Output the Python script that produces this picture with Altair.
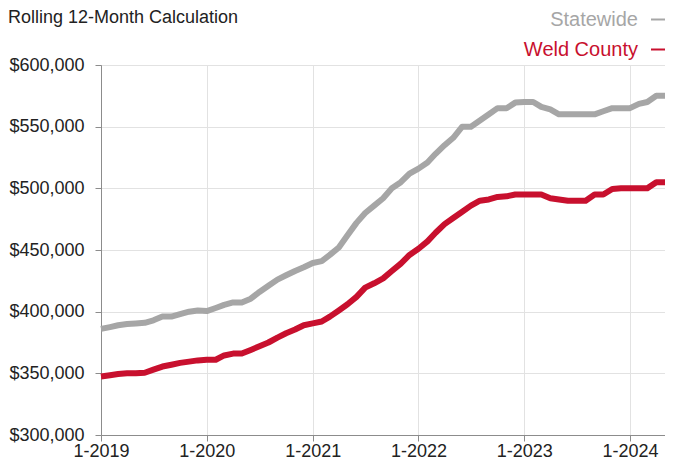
import altair as alt
import pandas as pd

# ---------------- data ----------------
title_text = "Rolling 12-Month Calculation"
series_names = ["Statewide", "Weld County"]
series_colors = ["#a6a6a6", "#c8102e"]

months = [d.strftime("%Y-%m-%d") for d in pd.date_range("2019-01-01", "2024-05-01", freq="MS")]

statewide = [
    386000, 387500, 389000, 390000, 390500, 391000, 393000, 396000, 396000, 398000, 400000, 401000,
    400500, 403000, 405500, 407500, 407500, 410500, 416000, 421000, 426000, 429500, 433000, 436000,
    439500, 441000, 446000, 452000, 462000, 472000, 480000, 486000, 492000, 500000, 505000, 512000,
    516000, 521000, 528000, 535000, 541000, 550000, 550000, 555000, 560000, 565000, 565000, 569500,
    570000, 570000, 566000, 564000, 560000, 560000, 560000, 560000, 560000, 562500, 565000, 565000,
    565000, 568500, 570000, 575000, 575000,
]

weld = [
    347500, 348500, 349500, 350000, 350000, 350500, 353000, 355500, 357000, 358500, 359500, 360500,
    361000, 361000, 364500, 366000, 366000, 369000, 372000, 375000, 379000, 382500, 385500, 389000,
    390500, 392000, 396000, 401000, 406000, 412000, 419500, 423000, 427000, 433000, 439000, 446000,
    451000, 457000, 464000, 471000, 476000, 481000, 486000, 490000, 491000, 493000, 493500, 495000,
    495000, 495000, 495000, 492000, 491000, 490000, 490000, 490000, 495000, 495000, 499500, 500000,
    500000, 500000, 500000, 505000, 505000,
]

y_ticks = [300000, 350000, 400000, 450000, 500000, 550000, 600000]
x_tick_years = [2019, 2020, 2021, 2022, 2023, 2024]

# ---------------- table ----------------
df = pd.DataFrame({"month": months, series_names[0]: statewide, series_names[1]: weld})
df = df.melt(id_vars="month", var_name="series", value_name="value")

FONT = "Liberation Sans"

PAD_L, PAD_T, PAD_B = 93, 57, 24
W, H = 564, 370

x_enc = alt.X(
    "month:T",
    scale=alt.Scale(
        type="utc",
        domain=[alt.DateTime(year=2019, month=1, date=1, utc=True),
                alt.DateTime(year=2024, month=5, date=1, utc=True)],
    ),
    axis=alt.Axis(
        values=[alt.DateTime(year=y, month=1, date=1, utc=True) for y in x_tick_years],
        labelExpr="(utcmonth(datum.value) + 1) + '-' + utcyear(datum.value)",
        title=None,
        labelPadding=1,
        labelFlush=False,
        labelOverlap=False,
    ),
)

y_enc = alt.Y(
    "value:Q",
    scale=alt.Scale(domain=[300000, 600000], nice=False, zero=False),
    axis=alt.Axis(values=y_ticks, format="$,.0f", title=None, labelPadding=11),
)

lines = alt.Chart(df).mark_line(strokeWidth=6, strokeJoin="round", strokeCap="butt").encode(
    x=x_enc,
    y=y_enc,
    color=alt.Color(
        "series:N",
        scale=alt.Scale(domain=series_names, range=series_colors),
        legend=None,
    ),
    detail="series:N",
)

layers = [lines]

# chart title at the very top left
title_df = pd.DataFrame({"t": [title_text]})
layers.append(
    alt.Chart(title_df).mark_text(
        align="left", baseline="top", fontSize=18, font=FONT, color="#222222"
    ).encode(x=alt.value(-PAD_L), y=alt.value(-PAD_T + 1), text="t:N")
)

# custom legend: label on the left, short dash on the right
for i, (name, col) in enumerate(zip(series_names, series_colors)):
    ldf = pd.DataFrame({"name": [name]})
    layers.append(
        alt.Chart(ldf).mark_text(
            align="right", baseline="alphabetic", fontSize=20, font=FONT, color=col
        ).encode(x=alt.value(537), y=alt.value(-39 + 30 * i), text="name:N")
    )
    layers.append(
        alt.Chart(ldf).mark_rule(color=col, strokeWidth=2).encode(
            x=alt.value(550), x2=alt.value(564), y=alt.value(-45.5 + 30 * i)
        )
    )

chart = (
    alt.layer(*layers)
    .properties(
        width=W,
        height=H,
        autosize=alt.AutoSizeParams(type="none"),
        padding={"left": PAD_L, "top": PAD_T, "right": 0, "bottom": PAD_B},
        background="white",
    )
    .configure_view(stroke="#8c8c8c", strokeWidth=1)
    .configure_axis(
        labelFont=FONT,
        labelFontSize=18,
        labelColor="#222222",
        domainColor="#8c8c8c",
        tickColor="#8c8c8c",
        tickSize=6,
        gridColor="#e2e2e2",
        gridWidth=1,
        grid=True,
    )
)

chart.save("out.html", embed_options={"renderer": "svg", "actions": False})
